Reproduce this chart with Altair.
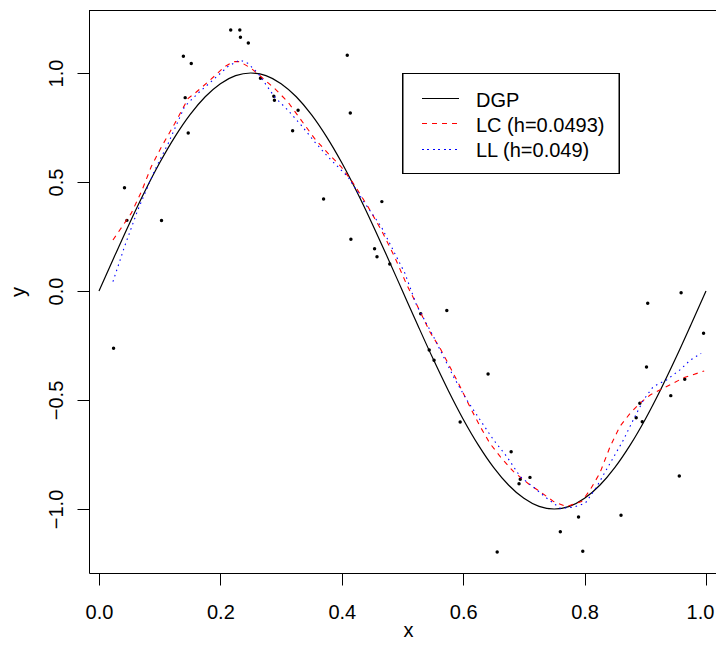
import altair as alt
import pandas as pd

# ---- data ----
pt_x = [0.024, 0.042, 0.046, 0.103, 0.139, 0.142, 0.147, 0.152, 0.217, 0.232,
        0.233, 0.246, 0.266, 0.288, 0.289, 0.319, 0.328, 0.370, 0.409, 0.414,
        0.415, 0.454, 0.458, 0.466, 0.479, 0.530, 0.544, 0.552, 0.573, 0.595,
        0.641, 0.656, 0.679, 0.692, 0.694, 0.710, 0.760, 0.790, 0.797, 0.860,
        0.885, 0.891, 0.895, 0.902, 0.904, 0.942, 0.956, 0.959, 0.965, 0.996]
pt_y = [-0.263, 0.474, 0.324, 0.323, 1.077, 0.887, 0.725, 1.044, 1.197, 1.197,
        1.164, 1.138, 0.976, 0.893, 0.875, 0.735, 0.829, 0.422, 1.081, 0.817,
        0.237, 0.194, 0.157, 0.410, 0.124, -0.104, -0.271, -0.318, -0.089, -0.601,
        -0.381, -1.197, -0.737, -0.884, -0.864, -0.855, -1.104, -1.037, -1.194, -1.029,
        -0.581, -0.515, -0.600, -0.349, -0.056, -0.480, -0.849, -0.008, -0.405, -0.194]

dgp_x = [0.000, 0.025, 0.050, 0.075, 0.100, 0.125, 0.150, 0.175, 0.200, 0.225,
         0.250, 0.275, 0.300, 0.325, 0.350, 0.375, 0.400, 0.425, 0.450, 0.475,
         0.500, 0.525, 0.550, 0.575, 0.600, 0.625, 0.650, 0.675, 0.700, 0.725,
         0.750, 0.775, 0.800, 0.825, 0.850, 0.875, 0.900, 0.925, 0.950, 0.975, 1.000]
dgp_y = [0.000, 0.156, 0.309, 0.454, 0.588, 0.707, 0.809, 0.891, 0.951, 0.988,
         1.000, 0.988, 0.951, 0.891, 0.809, 0.707, 0.588, 0.454, 0.309, 0.156,
         0.000, -0.156, -0.309, -0.454, -0.588, -0.707, -0.809, -0.891, -0.951, -0.988,
         -1.000, -0.988, -0.951, -0.891, -0.809, -0.707, -0.588, -0.454, -0.309, -0.156, 0.000]

lc_x = [0.023, 0.053, 0.070, 0.086, 0.103, 0.125, 0.147, 0.158, 0.180, 0.207,
        0.221, 0.232, 0.251, 0.267, 0.289, 0.311, 0.333, 0.355, 0.377, 0.399,
        0.421, 0.443, 0.465, 0.487, 0.506, 0.521, 0.545, 0.562, 0.578, 0.595,
        0.611, 0.628, 0.644, 0.661, 0.683, 0.710, 0.727, 0.749, 0.770, 0.795,
        0.809, 0.825, 0.842, 0.858, 0.875, 0.891, 0.908, 0.930, 0.963, 0.997]
lc_y = [0.234, 0.356, 0.456, 0.570, 0.662, 0.769, 0.884, 0.907, 0.960, 1.029,
        1.052, 1.052, 1.021, 0.983, 0.930, 0.868, 0.784, 0.700, 0.632, 0.570,
        0.486, 0.387, 0.280, 0.157, 0.035, -0.049, -0.187, -0.263, -0.347, -0.439,
        -0.531, -0.622, -0.699, -0.760, -0.829, -0.890, -0.921, -0.966, -0.989, -0.966,
        -0.913, -0.836, -0.714, -0.622, -0.561, -0.515, -0.477, -0.446, -0.398, -0.367]

ll_x = [0.023, 0.042, 0.064, 0.092, 0.114, 0.141, 0.163, 0.191, 0.212, 0.232,
        0.245, 0.262, 0.289, 0.311, 0.333, 0.355, 0.377, 0.410, 0.438, 0.465,
        0.504, 0.523, 0.551, 0.584, 0.606, 0.628, 0.650, 0.672, 0.694, 0.715,
        0.738, 0.760, 0.781, 0.801, 0.820, 0.842, 0.864, 0.880, 0.897, 0.913,
        0.935, 0.957, 0.974, 0.992]
ll_y = [0.043, 0.203, 0.372, 0.555, 0.677, 0.846, 0.907, 0.976, 1.029, 1.060,
        1.045, 0.999, 0.891, 0.830, 0.761, 0.685, 0.616, 0.524, 0.402, 0.295,
        0.081, -0.064, -0.209, -0.393, -0.500, -0.592, -0.683, -0.760, -0.852, -0.898,
        -0.951, -0.997, -0.992, -0.974, -0.898, -0.790, -0.683, -0.592, -0.500, -0.439,
        -0.408, -0.362, -0.317, -0.286]

x_ticks = [0.0, 0.2, 0.4, 0.6, 0.8, 1.0]
y_ticks = [-1.0, -0.5, 0.0, 0.5, 1.0]
legend_labels = ["DGP", "LC (h=0.0493)", "LL (h=0.049)"]

# ---- layout (whole svg kept inside 708 x 631 so the page never overflows) ----
W, H = 627, 563
FONT = "Liberation Sans"
PX_PER_X = 607.0
X_LEFT = -0.01647

pts = pd.DataFrame({"x": pt_x, "y": pt_y})
dgp = pd.DataFrame({"x": dgp_x, "y": dgp_y})
lc = pd.DataFrame({"x": lc_x, "y": lc_y})
ll = pd.DataFrame({"x": ll_x, "y": ll_y})

xscale = alt.Scale(domain=[X_LEFT, X_LEFT + W / PX_PER_X], nice=False, zero=False)
yscale = alt.Scale(domain=[-1.2936, 1.289], nice=False, zero=False)

xaxis = alt.Axis(values=x_ticks, format=".1f", grid=False, tickSize=12,
                 tickColor="black", domainColor="black", labelColor="black",
                 labelFontSize=20, labelFont=FONT, labelBaseline="alphabetic",
                 labelPadding=33, labelFlush=False,
                 labelOffset=alt.ExprRef(expr="datum.value >= 0.999 ? -6 : 0"),
                 title="x", titleFont=FONT,
                 titleFontSize=20, titleFontWeight="normal", titleColor="black",
                 titleX=319, titleY=63, titleBaseline="alphabetic", titleAlign="center")
yaxis = alt.Axis(values=y_ticks, format=".1f", grid=False, tickSize=12,
                 tickColor="black", domainColor="black", labelColor="black",
                 labelFontSize=20, labelFont=FONT, labelAngle=270, labelAlign="center",
                 labelBaseline="alphabetic", labelPadding=15, labelFlush=False,
                 title="y", titleFont=FONT, titleFontSize=20, titleFontWeight="normal",
                 titleColor="black", titleAngle=270, titleX=-65, titleY=281.5,
                 titleBaseline="alphabetic", titleAlign="center")

X = alt.X("x:Q", scale=xscale, axis=xaxis)
Y = alt.Y("y:Q", scale=yscale, axis=yaxis)

points = alt.Chart(pts).mark_circle(color="black", size=12, opacity=1).encode(x=X, y=Y)
dgp_line = alt.Chart(dgp).mark_line(color="black", strokeWidth=1.2,
                                    interpolate="monotone").encode(x=X, y=Y)
lc_line = alt.Chart(lc).mark_line(color="#FF0000", strokeWidth=1.1,
                                  strokeDash=[5, 5]).encode(x=X, y=Y)
ll_line = alt.Chart(ll).mark_line(color="#0000FF", strokeWidth=1.1,
                                  strokeDash=[1.5, 4]).encode(x=X, y=Y)

# top frame line (the right side is cut off in the reference)
top_line = alt.Chart(pts).mark_rule(color="black", strokeWidth=1).encode(
    x=alt.value(0), x2=alt.value(W), y=alt.value(0.5)
)

# manual legend
leg_box = alt.Chart(pts).mark_rect(fill="white", stroke="black", strokeWidth=1).encode(
    x=alt.value(314), x2=alt.value(530), y=alt.value(63.5), y2=alt.value(163.5)
)
row_line_y = [88.5, 113.5, 139.5]
row_text_y = [96.5, 121.8, 147]
styles = [("black", None, 1.2), ("#FF0000", [5, 5], 1.1), ("#0000FF", [1.5, 4], 1.1)]
leg_layers = [leg_box]
for i, lab in enumerate(legend_labels):
    col, dash, sw = styles[i]
    kw = dict(color=col, strokeWidth=sw)
    if dash is not None:
        kw["strokeDash"] = dash
    leg_layers.append(
        alt.Chart(pts).mark_rule(**kw).encode(
            x=alt.value(333), x2=alt.value(370), y=alt.value(row_line_y[i])
        )
    )
    leg_layers.append(
        alt.Chart(pd.DataFrame({"t": [lab]})).mark_text(
            align="left", baseline="alphabetic", font=FONT, fontSize=20, color="black"
        ).encode(x=alt.value(387), y=alt.value(row_text_y[i]), text="t:N")
    )

chart = alt.layer(points, dgp_line, lc_line, ll_line, top_line, *leg_layers).properties(
    width=W, height=H,
    autosize=alt.AutoSizeParams(type="none"),
    padding={"left": 81, "top": 2, "right": 0, "bottom": 66},
    background="white",
).configure_view(stroke=None)

chart.save("out.html", embed_options={"renderer": "svg", "actions": False})
